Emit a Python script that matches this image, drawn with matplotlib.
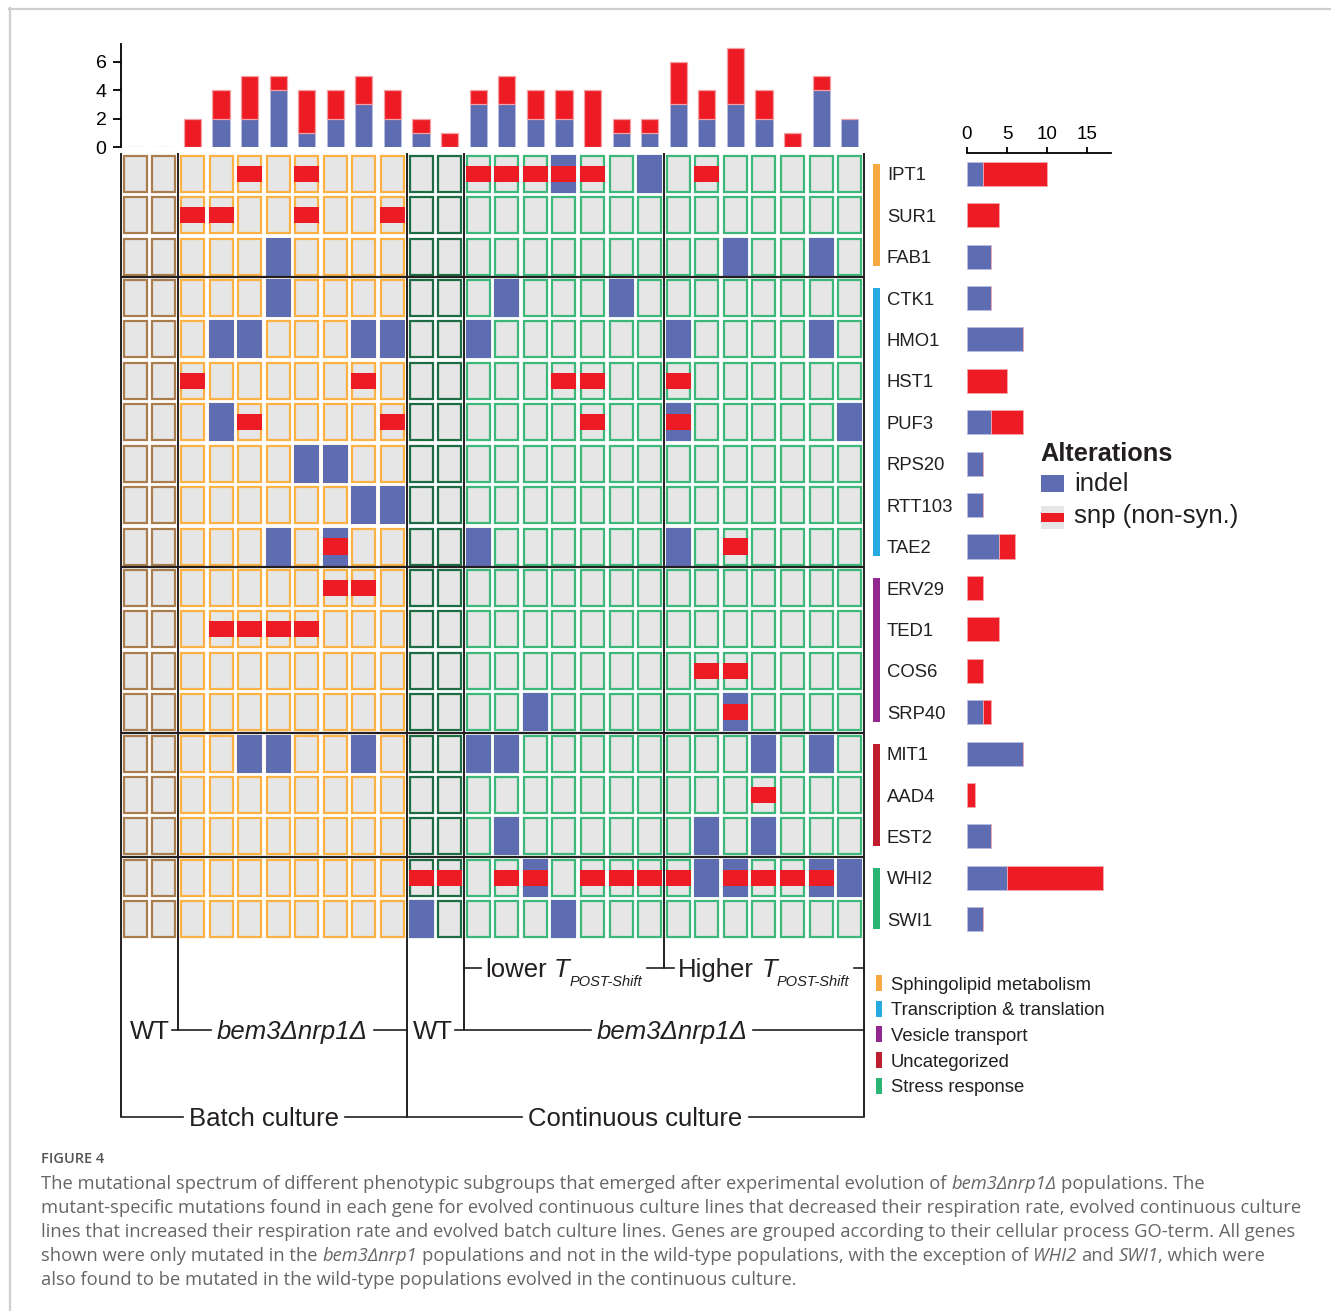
import matplotlib
matplotlib.use("Agg")
import matplotlib.pyplot as plt
from matplotlib.patches import Rectangle

W, H = 1331, 1311
plt.rcParams['font.family'] = ['Liberation Sans', 'DejaVu Sans']

# genes, top to bottom, grouped by GO-term
genes = ['IPT1', 'SUR1', 'FAB1', 'CTK1', 'HMO1', 'HST1', 'PUF3', 'RPS20', 'RTT103', 'TAE2',
         'ERV29', 'TED1', 'COS6', 'SRP40', 'MIT1', 'AAD4', 'EST2', 'WHI2', 'SWI1']
go_terms = ['Sphingolipid metabolism', 'Transcription & translation', 'Vesicle transport',
            'Uncategorized', 'Stress response']
go_sizes = [3, 7, 4, 3, 2]
go_colors = ['#f9a942', '#27a9e1', '#92278f', '#be1e2d', '#2bb574']

# columns: batch WT | batch bem3 | continuous WT | lower T | higher T
col_groups = [2, 8, 2, 7, 7]
col_group_colors = ['#a97d4e', '#fbb143', '#1e6c44', '#3bb87a', '#3bb87a']

# i = indel, s = snp (non-syn.), b = both, . = nothing
calls = [
    ".. ..s.s... .. sssbs.i .s.....",  # IPT1
    ".. ss..s..s .. ....... .......",  # SUR1
    ".. ...i.... .. ....... ..i..i.",  # FAB1
    ".. ...i.... .. .i...i. .......",  # CTK1
    ".. .ii...ii .. i...... i....i.",  # HMO1
    ".. s.....s. .. ...ss.. s......",  # HST1
    ".. .is....s .. ....s.. b.....i",  # PUF3
    ".. ....ii.. .. ....... .......",  # RPS20
    ".. ......ii .. ....... .......",  # RTT103
    ".. ...i.b.. .. i...... i.s....",  # TAE2
    ".. .....ss. .. ....... .......",  # ERV29
    ".. .ssss... .. ....... .......",  # TED1
    ".. ........ .. ....... .ss....",  # COS6
    ".. ........ .. ..i.... ..b....",  # SRP40
    ".. ..ii..i. .. ii..... ...i.i.",  # MIT1
    ".. ........ .. ....... ...s...",  # AAD4
    ".. ........ .. .i..... .i.i...",  # EST2
    ".. ........ ss .sb.sss sibssbi",  # WHI2
    ".. ........ i. ...i... .......",  # SWI1
]
calls = [c.replace(' ', '') for c in calls]
n_rows, n_cols = len(genes), len(calls[0])

indel_col = [sum(r[c] in 'ib' for r in calls) for c in range(n_cols)]
snp_col = [sum(r[c] in 'sb' for r in calls) for c in range(n_cols)]
indel_row = [sum(ch in 'ib' for ch in r) for r in calls]
snp_row = [sum(ch in 'sb' for ch in r) for r in calls]

col_colors = []
for n, cc in zip(col_groups, col_group_colors):
    col_colors += [cc] * n

BLUE, RED, GREY, DARK = '#5e6cb2', '#ed1c24', '#e6e6e6', '#231f20'

fig = plt.figure(figsize=(W / 100, H / 100), dpi=100)


def box(x0, y0, x1, y1):
    return [x0 / W, 1 - y1 / H, (x1 - x0) / W, (y1 - y0) / H]


MX0, MY0, MX1, MY1 = 121, 153, 864, 940
CW = (MX1 - MX0) / n_cols
RH = (MY1 - MY0) / n_rows

# matrix
ax = fig.add_axes(box(MX0, MY0, MX1, MY1))
ax.set_xlim(0, n_cols)
ax.set_ylim(n_rows, 0)
ax.axis('off')
w_in, h_in = 23 / CW, 36 / RH
w_out, h_out = 25 / CW, 38 / RH
for r in range(n_rows):
    for c in range(n_cols):
        ax.add_patch(Rectangle((c + 0.5 - w_in / 2, r + 0.5 - h_in / 2), w_in, h_in,
                               fc=GREY, ec=col_colors[c], lw=1.6))
        v = calls[r][c]
        if v in 'ib':
            ax.add_patch(Rectangle((c + 0.5 - w_out / 2, r + 0.5 - h_out / 2), w_out, h_out,
                                   fc=BLUE, ec='none'))
        if v in 'sb':
            ax.add_patch(Rectangle((c + 0.5 - w_out / 2, r + 0.5 - 0.195), w_out, 0.39,
                                   fc=RED, ec='none'))
bounds = []
acc = 0
for n in go_sizes[:-1]:
    acc += n
    bounds.append(acc)
ax.hlines(bounds, 0, n_cols, color=DARK, lw=1.6, zorder=5)

# top bars: mutations per population
axt = fig.add_axes(box(MX0, 44, MX1, 147))
xs = [c + 0.5 for c in range(n_cols)]
axt.bar(xs, indel_col, width=0.6, color=BLUE, edgecolor='#b9bfe2', lw=0.6)
axt.bar(xs, snp_col, width=0.6, bottom=indel_col, color=RED, edgecolor='#f5a0a4', lw=0.9)
axt.set_xlim(0, n_cols)
axt.set_ylim(0, 7.27)
axt.set_facecolor('none')
for s in ['top', 'right', 'bottom']:
    axt.spines[s].set_visible(False)
axt.spines['left'].set_linewidth(1.3)
axt.set_xticks([])
axt.set_yticks([0, 2, 4, 6])
axt.tick_params(axis='y', length=5.5, width=1.3, labelsize=14, pad=5)

# right bars: mutations per gene
axr = fig.add_axes(box(967, MY0, 1111, MY1))
ys = [r + 0.5 for r in range(n_rows)]
axr.barh(ys, indel_row, height=0.58, color=BLUE, edgecolor='#b9bfe2', lw=0.6)
axr.barh(ys, snp_row, height=0.58, left=indel_row, color=RED, edgecolor='#f7a8ab', lw=0.6)
axr.set_ylim(n_rows, 0)
axr.set_xlim(0, 18)
axr.set_facecolor('none')
for s in ['bottom', 'right', 'left']:
    axr.spines[s].set_visible(False)
axr.spines['top'].set_linewidth(1.3)
axr.xaxis.tick_top()
axr.set_xticks([0, 5, 10, 15])
axr.set_yticks([])
axr.tick_params(axis='x', length=4.5, width=1.3, labelsize=13.5, pad=3)

# overlay in pixel units for labels and brackets
ov = fig.add_axes([0, 0, 1, 1])
ov.set_xlim(0, W)
ov.set_ylim(H, 0)
ov.axis('off')
rend = fig.canvas.get_renderer()


def text_w(s, **kw):
    t = ov.text(0, 0, s, **kw)
    w = t.get_window_extent(rend).width
    t.remove()
    return w


def put_runs(x, y, runs, ha='left', **kw):
    items, total = [], 0
    for s, fs, st, dy in runs:
        p = dict(kw, fontsize=fs, style=st)
        sw = text_w('x x', **p) - text_w('xx', **p)
        core = s.strip(' ')
        lead = (len(s) - len(s.lstrip(' '))) * sw
        trail = (len(s) - len(s.rstrip(' '))) * sw
        w = text_w(core, **p) if core else 0
        items.append((core, p, dy, total + lead))
        total += lead + w + trail
    x0 = x - total / 2 if ha == 'center' else x
    for core, p, dy, off in items:
        if core:
            ov.text(x0 + off, y + dy, core, va='baseline', ha='left', **p)
    return x0, x0 + total


def cap(fs):
    return 0.716 * fs * 100 / 72 / 2


# gene labels and GO-term bars
GFS = 13.3
for r, g in enumerate(genes):
    ov.text(887, MY0 + (r + 0.5) * RH + cap(GFS), g, fontsize=GFS, va='baseline', color=DARK)
start = 0
for n, cc in zip(go_sizes, go_colors):
    ov.add_patch(Rectangle((873, MY0 + start * RH + 11), 7, n * RH - 22, fc=cc, ec='none'))
    start += n

# category legend
for i, (t, cc) in enumerate(zip(go_terms, go_colors)):
    yc = 983 + i * 25.7
    ov.add_patch(Rectangle((876, yc - 8), 6, 16, fc=cc, ec='none'))
    ov.text(891, yc + cap(GFS), t, fontsize=GFS, va='baseline', color=DARK)

# alterations legend
ov.text(1040, 452 + cap(18.3), 'Alterations', fontsize=18.3, weight='bold', va='baseline', color=DARK)
ov.add_patch(Rectangle((1041, 475), 23, 17, fc=BLUE, ec='none'))
ov.text(1074, 491, 'indel', fontsize=18.5, va='baseline', color=DARK)
ov.add_patch(Rectangle((1041, 506), 23, 23, fc=GREY, ec='none'))
ov.add_patch(Rectangle((1041, 513), 23, 9, fc=RED, ec='none'))
ov.text(1074, 523, 'snp (non-syn.)', fontsize=18.5, va='baseline', color=DARK)

# brackets below the matrix
cx = [MX0 + c * CW for c in [0, 2, 10, 12, 19, 26]]
bottoms = [1117, 1030, 1117, 1030, 968, 1117]
for x, yb in zip(cx, bottoms):
    ov.plot([x, x], [MY0, yb], color=DARK, lw=1.4, solid_capstyle='butt')


def label_on_line(x0, x1, y, runs, xc=None, gap=6, left=True):
    if xc is None:
        xc = (x0 + x1) / 2
    a, b = put_runs(xc, y + cap(18.5), runs, ha='center', color=DARK)
    if left:
        ov.plot([x0, a - gap], [y, y], color=DARK, lw=1.2)
    ov.plot([b + gap, x1], [y, y], color=DARK, lw=1.2)


BFS = 18.5
SUB = [('POST-Shift', 10.5, 'italic', 9)]
label_on_line(cx[3], cx[4], 968, [('lower ', BFS, 'normal', 0), ('T', BFS, 'italic', 0)] + SUB, gap=4)
label_on_line(cx[4], cx[5], 968, [('Higher ', BFS, 'normal', 0), ('T', BFS, 'italic', 0)] + SUB, gap=4)
label_on_line(cx[0], cx[1], 1030, [('WT', BFS, 'normal', 0)], xc=150, gap=2, left=False)
label_on_line(cx[1], cx[2], 1030, [('bem3Δnrp1Δ', BFS, 'italic', 0)])
label_on_line(cx[2], cx[3], 1030, [('WT', BFS, 'normal', 0)], xc=433, gap=2, left=False)
label_on_line(cx[3], cx[5], 1030, [('bem3Δnrp1Δ', BFS, 'italic', 0)], xc=672)
label_on_line(cx[0], cx[2], 1117, [('Batch culture', BFS, 'normal', 0)])
label_on_line(cx[2], cx[5], 1117, [('Continuous culture', BFS, 'normal', 0)])

# page frame and caption
ov.plot([9, W], [8.5, 8.5], color='#cfcfcf', lw=1.6)
ov.plot([9.5, 9.5], [8, H], color='#cfcfcf', lw=1.6)

CAP = ['Open Sans', 'DejaVu Sans']
ov.text(41, 1158 + 5, 'FIGURE 4', fontsize=10.5, weight='semibold', family=CAP,
        color='#555555', va='baseline')
CFS = 13.2
caption = [
    [('The mutational spectrum of different phenotypic subgroups that emerged after experimental evolution of ', 'normal'),
     ('bem3∆nrp1∆', 'italic'), (' populations. The', 'normal')],
    [('mutant-specific mutations found in each gene for evolved continuous culture lines that decreased their respiration rate, evolved continuous culture', 'normal')],
    [('lines that increased their respiration rate and evolved batch culture lines. Genes are grouped according to their cellular process GO-term. All genes', 'normal')],
    [('shown were only mutated in the ', 'normal'), ('bem3∆nrp1', 'italic'),
     (' populations and not in the wild-type populations, with the exception of ', 'normal'),
     ('WHI2', 'italic'), (' and ', 'normal'), ('SWI1', 'italic'), (', which were', 'normal')],
    [('also found to be mutated in the wild-type populations evolved in the continuous culture.', 'normal')],
]
for i, line in enumerate(caption):
    put_runs(41, 1183 + i * 24 + 6, [(s, CFS, st, 0) for s, st in line],
             family=CAP, color='#666666')

fig.savefig('out.png', dpi=100)
